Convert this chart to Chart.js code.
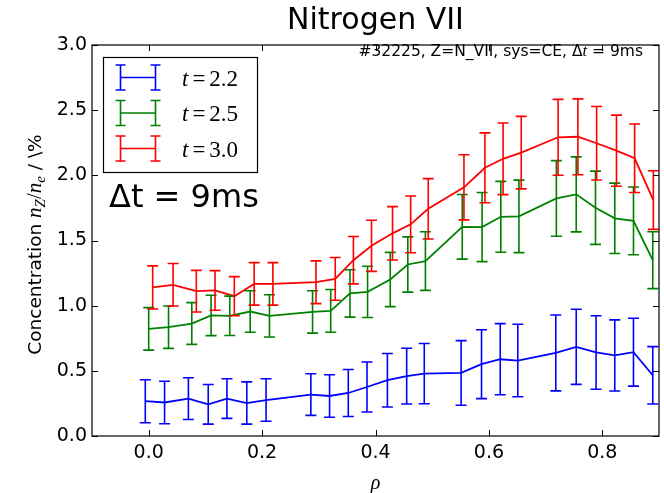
<!DOCTYPE html>
<html>
<head>
<meta charset="utf-8">
<script src="https://cdn.jsdelivr.net/npm/chart.js@4.4.0/dist/chart.umd.min.js"></script>
<style>
  html, body { margin: 0; padding: 0; background: #fff; }
  #wrap { width: 664px; height: 493px; }
</style>
</head>
<body>
<div id="wrap"><canvas id="myChart" width="664" height="493"></canvas></div>
<script>
// values
var seriesNames = ["t=2.2", "t=2.5", "t=3.0"]
var seriesColors = ["#0000ff", "#008000", "#ff0000"]

var rhoBlue = [-0.006, 0.028, 0.070, 0.105, 0.138, 0.173, 0.207, 0.286, 0.319, 0.352, 0.385, 0.421, 0.455, 0.486, 0.551, 0.587, 0.620, 0.651, 0.718, 0.754, 0.789, 0.822, 0.855, 0.889]
var concBlue = [0.267, 0.257, 0.287, 0.243, 0.287, 0.253, 0.276, 0.318, 0.307, 0.330, 0.376, 0.428, 0.459, 0.479, 0.484, 0.551, 0.589, 0.579, 0.637, 0.684, 0.641, 0.618, 0.643, 0.466]
var errBlue = [0.165, 0.163, 0.160, 0.152, 0.152, 0.162, 0.163, 0.160, 0.163, 0.180, 0.192, 0.205, 0.214, 0.231, 0.248, 0.264, 0.273, 0.278, 0.291, 0.288, 0.282, 0.273, 0.260, 0.220]

var rhoGreen = [0.000, 0.035, 0.076, 0.110, 0.143, 0.179, 0.213, 0.289, 0.321, 0.355, 0.386, 0.426, 0.457, 0.488, 0.553, 0.588, 0.621, 0.653, 0.719, 0.754, 0.788, 0.822, 0.855, 0.889]
var concGreen = [0.822, 0.835, 0.863, 0.925, 0.922, 0.955, 0.922, 0.952, 0.960, 1.094, 1.106, 1.201, 1.316, 1.342, 1.605, 1.603, 1.682, 1.685, 1.823, 1.854, 1.751, 1.670, 1.651, 1.349]
var errGreen = [0.163, 0.163, 0.160, 0.155, 0.151, 0.159, 0.162, 0.163, 0.164, 0.182, 0.197, 0.208, 0.212, 0.225, 0.248, 0.265, 0.272, 0.278, 0.290, 0.288, 0.281, 0.270, 0.260, 0.218]

var rhoRed = [0.007, 0.043, 0.084, 0.117, 0.151, 0.186, 0.219, 0.295, 0.329, 0.361, 0.393, 0.430, 0.462, 0.493, 0.556, 0.593, 0.625, 0.657, 0.722, 0.757, 0.790, 0.825, 0.857, 0.890]
var concRed = [1.140, 1.160, 1.111, 1.117, 1.073, 1.167, 1.167, 1.180, 1.206, 1.349, 1.459, 1.555, 1.624, 1.743, 1.908, 2.058, 2.127, 2.174, 2.292, 2.296, 2.246, 2.189, 2.131, 1.810]
var errRed = [0.165, 0.163, 0.160, 0.152, 0.150, 0.163, 0.163, 0.164, 0.164, 0.182, 0.196, 0.205, 0.218, 0.232, 0.250, 0.268, 0.275, 0.278, 0.291, 0.291, 0.282, 0.273, 0.263, 0.225]

var xTicks = [0.0, 0.2, 0.4, 0.6, 0.8]
var yTicks = [0.0, 0.5, 1.0, 1.5, 2.0, 2.5, 3.0]

var SANS = "'DejaVu Sans', sans-serif"
var SERIF = "'Liberation Serif', 'DejaVu Serif', serif"

function toPoints(xs, ys) {
  var pts = []
  for (var i = 0; i < xs.length; i++) pts.push({x: xs[i], y: ys[i]})
  return pts
}

var allRho = [rhoBlue, rhoGreen, rhoRed]
var allConc = [concBlue, concGreen, concRed]
var allErr = [errBlue, errGreen, errRed]

var datasets = []
for (var s = 0; s < 3; s++) {
  datasets.push({
    label: seriesNames[s],
    data: toPoints(allRho[s], allConc[s]),
    errors: allErr[s],
    borderColor: seriesColors[s],
    backgroundColor: seriesColors[s],
    borderWidth: 1.8,
    pointRadius: 0,
    showLine: true,
    tension: 0
  })
}

// error bars, drawn through the chart scales
var errorBars = {
  id: "errorBars",
  afterDatasetsDraw: function(chart) {
    var ctx = chart.ctx, xs = chart.scales.x, ys = chart.scales.y, a = chart.chartArea
    ctx.save()
    ctx.beginPath()
    ctx.rect(a.left, a.top, a.right - a.left, a.bottom - a.top)
    ctx.clip()
    chart.data.datasets.forEach(function(ds) {
      ctx.strokeStyle = ds.borderColor
      ctx.lineWidth = 1.6
      ds.data.forEach(function(p, i) {
        var px = xs.getPixelForValue(p.x)
        var top = ys.getPixelForValue(p.y + ds.errors[i])
        var bot = ys.getPixelForValue(p.y - ds.errors[i])
        ctx.beginPath()
        ctx.moveTo(px, top); ctx.lineTo(px, bot)
        ctx.moveTo(px - 5.5, top); ctx.lineTo(px + 5.5, top)
        ctx.moveTo(px - 5.5, bot); ctx.lineTo(px + 5.5, bot)
        ctx.stroke()
      })
    })
    ctx.restore()
  }
}

// frame, inward ticks, titles, legend and notes
var decorations = {
  id: "decorations",
  afterDraw: function(chart) {
    var ctx = chart.ctx, xs = chart.scales.x, ys = chart.scales.y, a = chart.chartArea
    ctx.save()
    ctx.strokeStyle = "#000"
    ctx.lineWidth = 1.2
    ctx.strokeRect(a.left, a.top, a.right - a.left, a.bottom - a.top)
    ctx.lineWidth = 1
    ctx.beginPath()
    xTicks.forEach(function(v) {
      var px = Math.round(xs.getPixelForValue(v)) + 0.5
      ctx.moveTo(px, a.bottom); ctx.lineTo(px, a.bottom - 6)
      ctx.moveTo(px, a.top); ctx.lineTo(px, a.top + 6)
    })
    yTicks.forEach(function(v) {
      var py = Math.round(ys.getPixelForValue(v)) + 0.5
      ctx.moveTo(a.left, py); ctx.lineTo(a.left + 6, py)
      ctx.moveTo(a.right, py); ctx.lineTo(a.right - 6, py)
    })
    ctx.stroke()

    ctx.fillStyle = "#000"
    // title
    ctx.font = "30px " + SANS
    ctx.textAlign = "center"
    ctx.textBaseline = "alphabetic"
    ctx.fillText("Nitrogen VII", (a.left + a.right) / 2, 29)

    // x label
    ctx.font = "italic 20px " + SERIF
    ctx.fillText("\u03c1", (a.left + a.right) / 2, 489)

    // y label, rotated, built from pieces
    var parts = [
      {t: "Concentration ", f: "18.5px " + SANS, dy: 0},
      {t: "n", f: "italic 21px " + SERIF, dy: 0},
      {t: "Z", f: "italic 15px " + SERIF, dy: 4},
      {t: "/", f: "21px " + SERIF, dy: 0},
      {t: "n", f: "italic 21px " + SERIF, dy: 0},
      {t: "e", f: "italic 15px " + SERIF, dy: 4},
      {t: " / \\%", f: "18.5px " + SANS, dy: 0}
    ]
    var total = 0
    parts.forEach(function(p) { ctx.font = p.f; p.w = ctx.measureText(p.t).width; total += p.w })
    ctx.save()
    ctx.translate(41, (a.top + a.bottom) / 2 + 4)
    ctx.rotate(-Math.PI / 2)
    ctx.textAlign = "left"
    var cx = -total / 2
    parts.forEach(function(p) { ctx.font = p.f; ctx.fillText(p.t, cx, p.dy); cx += p.w })
    ctx.restore()

    // note in top right
    ctx.textAlign = "left"
    var note = [
      {t: "#32225, Z=N_VII, sys=CE, ", f: "15.5px " + SANS},
      {t: "\u0394", f: "15.5px " + SANS},
      {t: "t", f: "italic 16.5px " + SERIF},
      {t: " = 9ms", f: "15.5px " + SANS}
    ]
    var nw = 0
    note.forEach(function(p) { ctx.font = p.f; p.w = ctx.measureText(p.t).width; nw += p.w })
    var nx = 643 - nw
    note.forEach(function(p) { ctx.font = p.f; ctx.fillText(p.t, nx, 56); nx += p.w })

    // legend box
    ctx.fillStyle = "#fff"
    ctx.fillRect(103.5, 57.5, 154, 115)
    ctx.strokeStyle = "#000"
    ctx.lineWidth = 1.2
    ctx.strokeRect(103.5, 57.5, 154, 115)
    for (var s = 0; s < seriesNames.length; s++) {
      var ly = 77.5 + s * 35.5
      ctx.strokeStyle = seriesColors[s]
      ctx.lineWidth = 1.6
      ctx.beginPath()
      ctx.moveTo(120.5, ly); ctx.lineTo(155.5, ly)
      ;[120.5, 155.5].forEach(function(bx) {
        ctx.moveTo(bx, ly - 12.5); ctx.lineTo(bx, ly + 12.5)
        ctx.moveTo(bx - 5, ly - 12.5); ctx.lineTo(bx + 5, ly - 12.5)
        ctx.moveTo(bx - 5, ly + 12.5); ctx.lineTo(bx + 5, ly + 12.5)
      })
      ctx.stroke()
      ctx.fillStyle = "#000"
      var bits = seriesNames[s].split("=")
      var lx = 182
      ctx.font = "italic 23px " + SERIF
      ctx.fillText(bits[0], lx, ly + 8); lx += ctx.measureText(bits[0]).width + 4
      ctx.font = "23px " + SERIF
      ctx.fillText("=", lx, ly + 8); lx += ctx.measureText("=").width + 4
      ctx.fillText(bits[1], lx, ly + 8)
    }

    // delta t text
    ctx.fillStyle = "#000"
    ctx.font = "32px " + SANS
    ctx.fillText("\u0394t = 9ms", 109, 207)
    ctx.restore()
  }
}

var chart = new Chart(document.getElementById("myChart").getContext("2d"), {
  type: "scatter",
  data: { datasets: datasets },
  options: {
    responsive: false,
    animation: false,
    layout: { padding: { left: 0, right: 5, top: 45, bottom: 0 } },
    plugins: { legend: { display: false }, tooltip: { enabled: false }, title: { display: false } },
    scales: {
      x: {
        type: "linear", min: -0.1, max: 0.9,
        grid: { display: false, drawTicks: false },
        border: { display: false },
        afterFit: function(scale) { scale.height = 57 },
        afterBuildTicks: function(scale) { scale.ticks = xTicks.map(function(v) { return {value: v} }) },
        ticks: {
          color: "#000", padding: 6, maxRotation: 0,
          font: { family: "DejaVu Sans", size: 19 },
          callback: function(v) { return Number(v).toFixed(1) }
        }
      },
      y: {
        type: "linear", min: 0, max: 3,
        grid: { display: false, drawTicks: false },
        border: { display: false },
        afterFit: function(scale) { scale.width = 92 },
        afterBuildTicks: function(scale) { scale.ticks = yTicks.map(function(v) { return {value: v} }) },
        ticks: {
          color: "#000", padding: 5,
          font: { family: "DejaVu Sans", size: 19 },
          callback: function(v) { return Number(v).toFixed(1) }
        }
      }
    }
  },
  plugins: [errorBars, decorations]
})
</script>
</body>
</html>
